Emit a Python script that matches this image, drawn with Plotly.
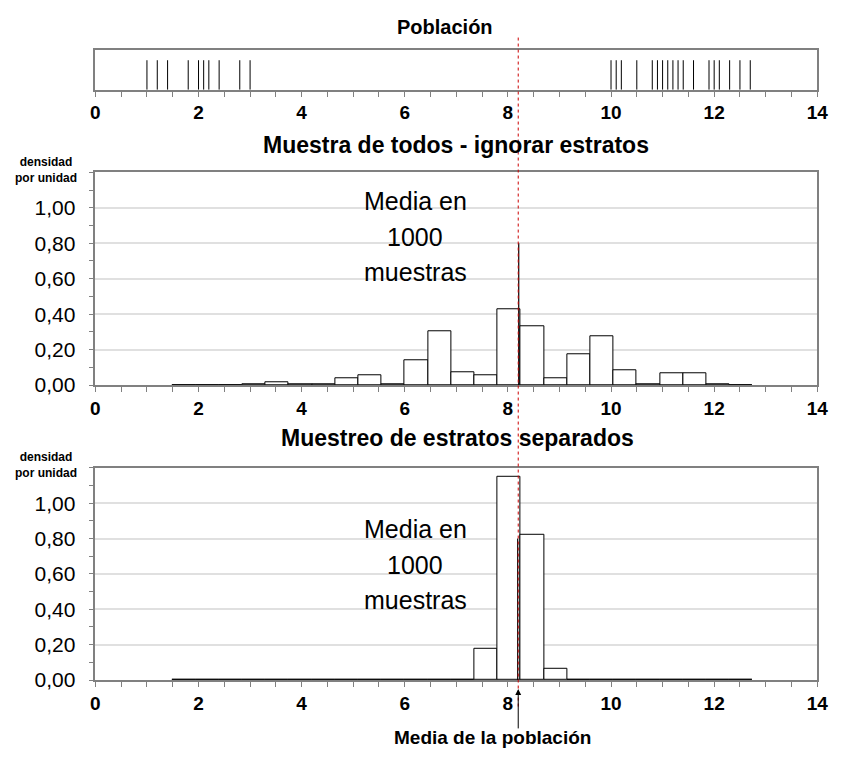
import plotly.graph_objects as go

# ---------------- data ----------------
pop_left = [1.0, 1.2, 1.4, 1.8, 2.0, 2.1, 2.2, 2.4, 2.8, 3.0]
pop_right = [10.0, 10.1, 10.2, 10.5, 10.8, 10.9, 11.0, 11.1, 11.2, 11.3, 11.4,
             11.6, 11.9, 12.0, 12.1, 12.3, 12.5, 12.7]
population = pop_left + pop_right
population_mean = 8.2

bin_start = 1.5
bin_width = 0.45
dens_all = [0.001, 0.001, 0.001, 0.002, 0.018, 0.004, 0.007, 0.040, 0.058, 0.004,
            0.140, 0.305, 0.073, 0.058, 0.430, 0.334, 0.040, 0.176, 0.277, 0.084,
            0.006, 0.065, 0.065, 0.002, 0.001]
dens_strat = [0, 0, 0, 0, 0, 0, 0, 0, 0, 0,
              0, 0, 0.004, 0.177, 1.148, 0.820, 0.065, 0, 0, 0,
              0, 0, 0, 0, 0]
mean_all = 8.21
mean_strat = 8.19
mean_line_top = 0.8

x_ticks = [0, 2, 4, 6, 8, 10, 12, 14]
y_ticks = [0, 0.2, 0.4, 0.6, 0.8, 1.0]

title_top = "Población"
title_mid = "Muestra de todos - ignorar estratos"
title_bot = "Muestreo de estratos separados"
ylab = "densidad<br>por unidad"
mean_text = ["Media en", "1000", "muestras"]
pop_mean_text = "Media de la población"

# ---------------- helpers ----------------
# page body keeps its default 8px margin: figure pixel = window pixel - 8
M = 8
W, H = 843 - M, 754
FONT = "Arial, Liberation Sans, sans-serif"
def px(x):
    return (x - M) / W
def py(y):
    return 1 - (y - M) / H

centers = [bin_start + bin_width * (i + 0.5) for i in range(len(dens_all))]

fig = go.Figure()

# population strip
sx, sy = [], []
for v in population:
    sx += [v, v, None]
    sy += [0, 0.75, None]
fig.add_trace(go.Scatter(x=sx, y=sy, mode="lines", line=dict(color="black", width=1),
                         xaxis="x", yaxis="y", hoverinfo="skip"))

# histograms
for dens, xa, ya, m in [(dens_all, "x2", "y2", mean_all), (dens_strat, "x3", "y3", mean_strat)]:
    fig.add_trace(go.Bar(x=centers, y=dens, width=bin_width,
                         marker=dict(color="white", line=dict(color="black", width=1)),
                         xaxis=xa, yaxis=ya))
    fig.add_trace(go.Scatter(x=[m, m], y=[0, mean_line_top], mode="lines",
                             line=dict(color="black", width=1.2),
                             xaxis=xa, yaxis=ya, hoverinfo="skip"))

axis_common = dict(showline=True, linecolor="#808080", linewidth=1.5, mirror=True)
xdom = [px(92), px(828)]

def xaxis(anchor):
    return dict(domain=xdom, range=[0, 14], anchor=anchor, tickvals=x_ticks,
                ticks="outside", ticklen=5, tickcolor="#808080", tickwidth=1,
                ticklabeloverflow="allow",
                minor=dict(dtick=0.5, ticks="outside", ticklen=5, tickcolor="#808080"),
                showgrid=False, zeroline=False,
                tickfont=dict(family=FONT, size=19, color="black", weight="bold"),
                **axis_common)

def yaxis(anchor, top, bottom):
    return dict(domain=[py(bottom), py(top)], range=[0, 1.2], anchor=anchor,
                tickvals=y_ticks, tickformat=".2f", ticks="outside", ticklen=5,
                tickcolor="#808080", ticklabelstandoff=9,
                minor=dict(dtick=0.1, ticks="outside", ticklen=5, tickcolor="#808080",
                           showgrid=False),
                showgrid=True, gridcolor="#e0e0e0", gridwidth=1.5, zeroline=False,
                tickfont=dict(family=FONT, size=21, color="black"),
                **axis_common)

fig.update_layout(
    width=W, height=H, margin=dict(l=0, r=0, t=0, b=0),
    paper_bgcolor="white", plot_bgcolor="white", showlegend=False,
    separators=",.", bargap=0,
    xaxis=xaxis("y"),
    yaxis=dict(domain=[py(91), py(51)], range=[0, 1], anchor="x", showticklabels=False,
               ticks="", showgrid=False, zeroline=False, **axis_common),
    xaxis2=xaxis("y2"),
    yaxis2=yaxis("x2", 174.7, 390.7),
    xaxis3=xaxis("y3"),
    yaxis3=yaxis("x3", 474.6, 690),
)

anns = []
def title(text, x, y, size):
    anns.append(dict(text=text, x=px(x), y=py(y), xref="paper", yref="paper",
                     showarrow=False, xanchor="center", yanchor="middle",
                     font=dict(family=FONT, size=size, color="black", weight="bold")))
title(title_top, 448, 27, 20)
title(title_mid, 460, 147, 23)
title(title_bot, 461, 444, 23)
title(pop_mean_text, 497, 748, 19)
for yy in (172, 472):
    anns.append(dict(text=ylab, x=px(42), y=py(yy), xref="paper", yref="paper",
                     showarrow=False, xanchor="center", yanchor="middle", align="center",
                     font=dict(family=FONT, size=12, color="black", weight="bold")))
for base in (204, 537):
    for i, t in enumerate(mean_text):
        anns.append(dict(text=t, x=px(418), y=py(base + 36 * i), xref="paper", yref="paper",
                         showarrow=False, xanchor="center", yanchor="middle",
                         font=dict(family=FONT, size=25, color="black")))
# arrow to population mean
anns.append(dict(text="", x=population_mean, y=py(699), xref="x3", yref="paper",
                 showarrow=True, arrowhead=2, arrowsize=1.2, arrowwidth=1, arrowcolor="black",
                 ax=0, ay=41))
fig.update_layout(annotations=anns)

# red dotted population-mean line
fig.add_shape(type="line", xref="x", yref="paper", x0=population_mean, x1=population_mean,
              y0=py(38), y1=py(718), line=dict(color="#cc0000", width=1, dash="dot"))

fig.write_html("out.html")
